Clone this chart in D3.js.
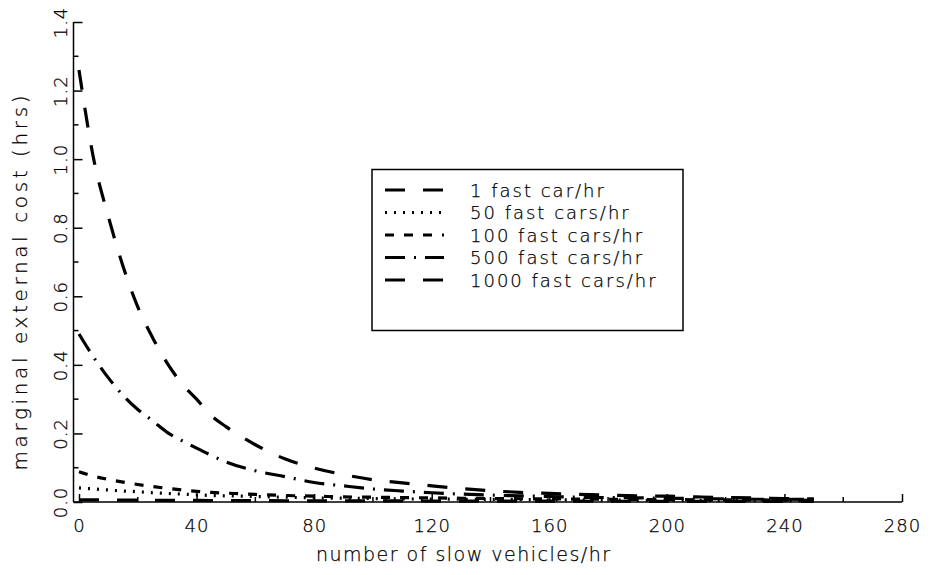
<!DOCTYPE html>
<meta charset="utf-8">
<style>
  html, body { margin: 0; padding: 0; background: #fff; }
  svg { display: block; }
  text { font-family: "DejaVu Sans", sans-serif; font-weight: 200; fill: #000; stroke: #000; stroke-width: 0.25px; }
  .axis path, .axis line { stroke: #000; stroke-width: 1.5px; }
  .curve { fill: none; stroke: #000; stroke-width: 3.2px; stroke-linecap: butt; }
</style>
<svg id="chart" width="930" height="575"></svg>
<script src="https://cdn.jsdelivr.net/npm/d3@7/dist/d3.min.js"></script>
<script>

  // slow vehicles per hour (x) and marginal external cost in hrs (y)
  let slowVehicles = [0, 5, 10, 15, 20, 25, 30, 35, 40, 45, 50, 60, 70, 80, 90, 100,
    110, 120, 130, 140, 150, 160, 170, 180, 190, 200, 210, 220, 230, 240, 250]

  let fast1 = [0.006, 0.006, 0.0058, 0.0056, 0.0054, 0.0052, 0.005, 0.0048, 0.0046, 0.0044, 0.0042,
    0.004, 0.0037, 0.0035, 0.0033, 0.0031, 0.003, 0.0028, 0.0027, 0.0026, 0.0025, 0.0024,
    0.0023, 0.0022, 0.0021, 0.002, 0.002, 0.0019, 0.0018, 0.0018, 0.0017]
  let fast50 = [0.041, 0.038, 0.035, 0.032, 0.030, 0.027, 0.025, 0.023, 0.021, 0.019, 0.018,
    0.016, 0.014, 0.012, 0.011, 0.010, 0.009, 0.0085, 0.008, 0.0075, 0.007, 0.0065,
    0.006, 0.0055, 0.005, 0.005, 0.0045, 0.004, 0.004, 0.004, 0.0035]
  let fast100 = [0.088, 0.075, 0.066, 0.058, 0.051, 0.045, 0.040, 0.035, 0.031, 0.028, 0.026,
    0.022, 0.019, 0.017, 0.015, 0.014, 0.013, 0.012, 0.011, 0.010, 0.0095, 0.009,
    0.0085, 0.008, 0.0075, 0.007, 0.0065, 0.006, 0.006, 0.0055, 0.005]
  let fast500 = [0.49, 0.422, 0.362, 0.311, 0.27, 0.237, 0.203, 0.179, 0.157, 0.136, 0.117,
    0.091, 0.074, 0.057, 0.047, 0.038, 0.032, 0.027, 0.023, 0.020, 0.018, 0.016,
    0.014, 0.013, 0.012, 0.011, 0.010, 0.009, 0.008, 0.008, 0.007]
  let fast1000 = [1.26, 1.0, 0.832, 0.687, 0.569, 0.48, 0.405, 0.345, 0.30, 0.252, 0.22,
    0.167, 0.126, 0.099, 0.080, 0.065, 0.056, 0.047, 0.039, 0.033, 0.028, 0.025,
    0.022, 0.020, 0.018, 0.017, 0.015, 0.013, 0.012, 0.010, 0.009]

  let legendLabels = ['1 fast car/hr', '50 fast cars/hr', '100 fast cars/hr', '500 fast cars/hr', '1000 fast cars/hr']
  let xTicks = [0, 40, 80, 120, 160, 200, 240, 280]
  let yTicks = [0, 0.2, 0.4, 0.6, 0.8, 1.0, 1.2, 1.4]

  let series = [fast1, fast50, fast100, fast500, fast1000]
  let dashes = ['20,18', '2,7', '9,10', '20,9,2,9', '20,18']

  let svg = d3.select('#chart')

  let x = d3.scaleLinear().domain([0, 280]).range([79, 902])
  let y = d3.scaleLinear().domain([0, 1.4]).range([502, 22])
  let axisX = 73.5

  // x axis
  let gx = svg.append('g').attr('class', 'axis').attr('transform', 'translate(0,502)')
  gx.append('line').attr('x1', axisX).attr('x2', x(280)).attr('y1', 0).attr('y2', 0)
  gx.selectAll('.minor').data(d3.range(20, 280, 40)).join('line')
    .attr('x1', d => x(d)).attr('x2', d => x(d)).attr('y1', 0).attr('y2', -5)
  gx.call(d3.axisBottom(x).tickValues(xTicks).tickSize(-8).tickSizeOuter(0).tickPadding(17))
  gx.select('.domain').remove()
  gx.selectAll('.tick text').attr('font-size', 18).attr('font-family', null).attr('letter-spacing', 1)

  // y axis
  let gy = svg.append('g').attr('class', 'axis').attr('transform', 'translate(' + axisX + ',0)')
  gy.append('line').attr('x1', 0).attr('x2', 0).attr('y1', y(1.4)).attr('y2', 502)
  gy.selectAll('.minor').data([0.1, 0.3, 0.5, 0.7, 0.9, 1.1, 1.3]).join('line')
    .attr('x1', 0).attr('x2', 5).attr('y1', d => y(d)).attr('y2', d => y(d))
  gy.call(d3.axisLeft(y).tickValues(yTicks).tickSize(-9).tickSizeOuter(0).tickFormat(d3.format('.1f')))
  gy.select('.domain').remove()
  gy.selectAll('.tick text')
    .attr('transform', 'rotate(-90)')
    .attr('x', 0).attr('y', -7).attr('dy', 0)
    .attr('text-anchor', 'middle')
    .attr('font-size', 18).attr('font-family', null).attr('letter-spacing', 1)

  // curves
  let line = d3.line()
    .x((d, i) => x(slowVehicles[i]))
    .y(d => y(d))
    .curve(d3.curveMonotoneX)

  svg.selectAll('.curve').data(series).join('path')
    .attr('class', 'curve')
    .attr('stroke-dasharray', (d, i) => dashes[i])
    .attr('d', line)

  // legend
  let lg = svg.append('g')
  lg.append('rect').attr('x', 372).attr('y', 169.5).attr('width', 311).attr('height', 161)
    .attr('fill', '#fff').attr('stroke', '#000').attr('stroke-width', 1.5)
  legendLabels.forEach((lab, i) => {
    let yy = 190 + i * 22.5
    lg.append('line').attr('class', 'curve').attr('x1', 385).attr('x2', 444)
      .attr('y1', yy).attr('y2', yy).attr('stroke-dasharray', dashes[i])
    lg.append('text').attr('x', 470).attr('y', yy + 6.5).attr('font-size', 18)
      .attr('letter-spacing', 2).text(lab)
  })

  // axis titles
  svg.append('text').attr('x', 463).attr('y', 561).attr('text-anchor', 'middle')
    .attr('font-size', 19).attr('textLength', 294).attr('lengthAdjust', 'spacing')
    .text('number of slow vehicles/hr')
  svg.append('text').attr('transform', 'translate(27,283) rotate(-90)').attr('text-anchor', 'middle')
    .attr('font-size', 20).attr('textLength', 375).attr('lengthAdjust', 'spacing')
    .text('marginal external cost (hrs)')

</script>
